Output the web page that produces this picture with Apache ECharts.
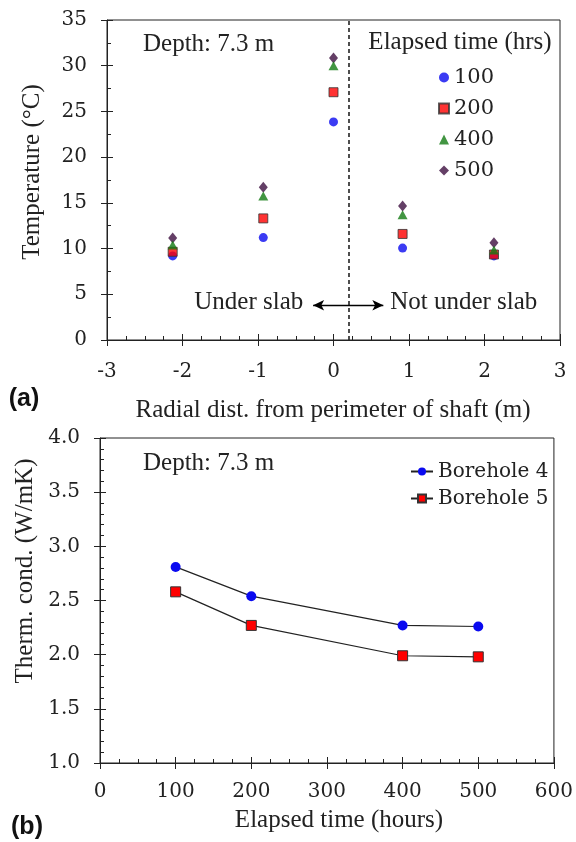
<!DOCTYPE html>
<html><head><meta charset="utf-8">
<style>html,body{margin:0;padding:0;background:#fff}#c{width:576px;height:842px}</style>
</head><body>
<div id="c"></div>
<script src="https://cdn.jsdelivr.net/npm/echarts@6/dist/echarts.min.js"></script>
<script>
// ---- Data (a): temperature vs radial distance ----
const radialDist = [-2.13, -0.93, 0, 0.915, 2.125];
const temp100 = [9.2, 11.2, 23.85, 10.05, 9.2];
const temp200 = [9.65, 13.3, 27.1, 11.6, 9.35];
const temp400 = [10.4, 15.75, 30.0, 13.7, 9.85];
const temp500 = [11.15, 16.7, 30.85, 14.65, 10.65];
const elapsedNames = ['100', '200', '400', '500'];
const slabEdge = 0.2;
const arrowFrom = [-0.27, 3.8];
const arrowTo = [0.66, 3.8];
// ---- Data (b): thermal conductivity vs elapsed time ----
const hours = [100, 200, 400, 500];
const borehole4 = [2.81, 2.54, 2.27, 2.26];
const borehole5 = [2.58, 2.27, 1.99, 1.98];
const boreholeNames = ['Borehole 4', 'Borehole 5'];

const serif = 'Liberation Serif';
const labelSerif = 'DejaVu Serif';
const ink = '#222';

const chart = echarts.init(document.getElementById('c'), null, {renderer: 'canvas'});

function lbl(o) {
  return Object.assign({margin: 20, fontSize: 20, fontFamily: labelSerif, color: ink}, o || {});
}
function mainAxis(o) {
  return Object.assign({
    type: 'value',
    axisLine: {show: true, onZero: false, lineStyle: {color: ink, width: 1}},
    axisTick: {show: true, inside: true, length: 6, lineStyle: {color: ink}},
    splitLine: {show: false},
    minorSplitLine: {show: false},
    axisLabel: lbl()
  }, o);
}
function dupAxis(o) {
  return Object.assign({
    type: 'value',
    axisLine: {show: false, onZero: false},
    axisTick: {show: true, inside: false, length: 6, lineStyle: {color: ink}},
    minorTick: {show: false},
    splitLine: {show: false},
    axisLabel: {show: false}
  }, o);
}
const minor = n => ({show: true, splitNumber: n, length: 4, lineStyle: {color: ink}});
const pair = (xs, ys) => xs.map((x, i) => [x, ys[i]]);

const option = {
  animation: false,
  grid: [
    {left: 107, top: 20, width: 453, height: 320, show: true, borderColor: ink, borderWidth: 1},
    {left: 100, top: 438, width: 457, height: 325, show: true, borderColor: ink, borderWidth: 1}
  ],
  xAxis: [
    mainAxis({gridIndex: 0, min: -3, max: 3, interval: 1, position: 'bottom', minorTick: minor(4), axisLabel: lbl({margin: 22})}),
    mainAxis({gridIndex: 1, min: 0, max: 600, interval: 100, position: 'bottom', minorTick: minor(4), axisLabel: lbl({margin: 19})}),
    dupAxis({gridIndex: 0, min: -3, max: 3, interval: 1, position: 'bottom'}),
    dupAxis({gridIndex: 1, min: 0, max: 600, interval: 100, position: 'bottom'})
  ],
  yAxis: [
    mainAxis({gridIndex: 0, min: 0, max: 35, interval: 5, position: 'left', minorTick: minor(2)}),
    mainAxis({gridIndex: 1, min: 1, max: 4, interval: 0.5, position: 'left', minorTick: minor(5),
      axisLabel: lbl({formatter: v => v.toFixed(1)})}),
    dupAxis({gridIndex: 0, min: 0, max: 35, interval: 5, position: 'left'}),
    dupAxis({gridIndex: 1, min: 1, max: 4, interval: 0.5, position: 'left'})
  ],
  legend: [
    {data: elapsedNames, orient: 'vertical', left: 433, top: 60, itemGap: 6, itemWidth: 10, itemHeight: 10,
     textStyle: {fontFamily: labelSerif, fontSize: 21, color: ink, lineHeight: 25}},
    {data: boreholeNames, orient: 'vertical', left: 405, top: 454, itemGap: 2, itemWidth: 22, itemHeight: 10,
     textStyle: {fontFamily: labelSerif, fontSize: 20, color: ink, lineHeight: 25}}
  ],
  series: [
    {name: '100', type: 'scatter', xAxisIndex: 0, yAxisIndex: 0, data: pair(radialDist, temp100),
     symbol: 'circle', symbolSize: 9, itemStyle: {color: '#0a0af0'}, z: 2,
     markLine: {silent: true, symbol: ['none', 'none'], label: {show: false},
       data: [
         {xAxis: slabEdge, lineStyle: {type: [4, 3], color: ink, width: 1.6}},
         [{coord: arrowFrom, symbol: 'arrow', symbolSize: [8, 11]}, {coord: arrowTo, symbol: 'arrow', symbolSize: [8, 11], lineStyle: {type: 'solid', color: '#000', width: 1.4}}]
       ]}},
    {name: '200', type: 'scatter', xAxisIndex: 0, yAxisIndex: 0, data: pair(radialDist, temp200),
     symbol: 'rect', symbolSize: 9, itemStyle: {color: '#f00', borderColor: '#333', borderWidth: 1}, z: 3},
    {name: '500', type: 'scatter', xAxisIndex: 0, yAxisIndex: 0, data: pair(radialDist, temp500),
     symbol: 'diamond', symbolSize: [9, 11], itemStyle: {color: '#3d0f40'}, z: 4},
    {name: '400', type: 'scatter', xAxisIndex: 0, yAxisIndex: 0, data: pair(radialDist, temp400),
     symbol: 'triangle', symbolSize: [10, 9], itemStyle: {color: '#137a13'}, z: 5},
    {name: 'Borehole 4', type: 'line', xAxisIndex: 1, yAxisIndex: 1, data: pair(hours, borehole4),
     symbol: 'circle', symbolSize: 10, showSymbol: true, lineStyle: {color: ink, width: 1.2},
     itemStyle: {color: '#0a0af0'}},
    {name: 'Borehole 5', type: 'line', xAxisIndex: 1, yAxisIndex: 1, data: pair(hours, borehole5),
     symbol: 'rect', symbolSize: 10, showSymbol: true, lineStyle: {color: ink, width: 1.2},
     itemStyle: {color: '#f00', borderColor: '#333', borderWidth: 1}}
  ]
};

const txt = (x, y, text, extra) => ({type: 'text', x, y, silent: true,
  style: Object.assign({text, fontFamily: serif, fontSize: 25, fill: ink, align: 'left', verticalAlign: 'middle'}, extra || {})});

chart.setOption(option);
const pUnder = chart.convertToPixel({xAxisIndex: 0, yAxisIndex: 0}, [-0.40, 4.1]);
const pNot = chart.convertToPixel({xAxisIndex: 0, yAxisIndex: 0}, [0.75, 4.1]);
chart.setOption({graphic: [
  txt(143, 44, 'Depth: 7.3 m'),
  txt(460, 42, 'Elapsed time (hrs)', {align: 'center'}),
  txt(pUnder[0], pUnder[1], 'Under slab', {align: 'right'}),
  txt(pNot[0], pNot[1], 'Not under slab'),
  txt(333, 410, 'Radial dist. from perimeter of shaft (m)', {align: 'center'}),
  Object.assign(txt(32, 172, 'Temperature (°C)', {align: 'center'}), {rotation: Math.PI / 2}),
  txt(24, 399, '(a)', {align: 'center', fontFamily: 'Liberation Sans', fontWeight: 'bold', fill: '#111'}),
  txt(143, 463, 'Depth: 7.3 m'),
  txt(339, 820, 'Elapsed time (hours)', {align: 'center'}),
  Object.assign(txt(25, 571, 'Therm. cond. (W/mK)', {align: 'center'}), {rotation: Math.PI / 2}),
  txt(27, 827, '(b)', {align: 'center', fontFamily: 'Liberation Sans', fontWeight: 'bold', fill: '#111'})
]});
</script></body></html>
